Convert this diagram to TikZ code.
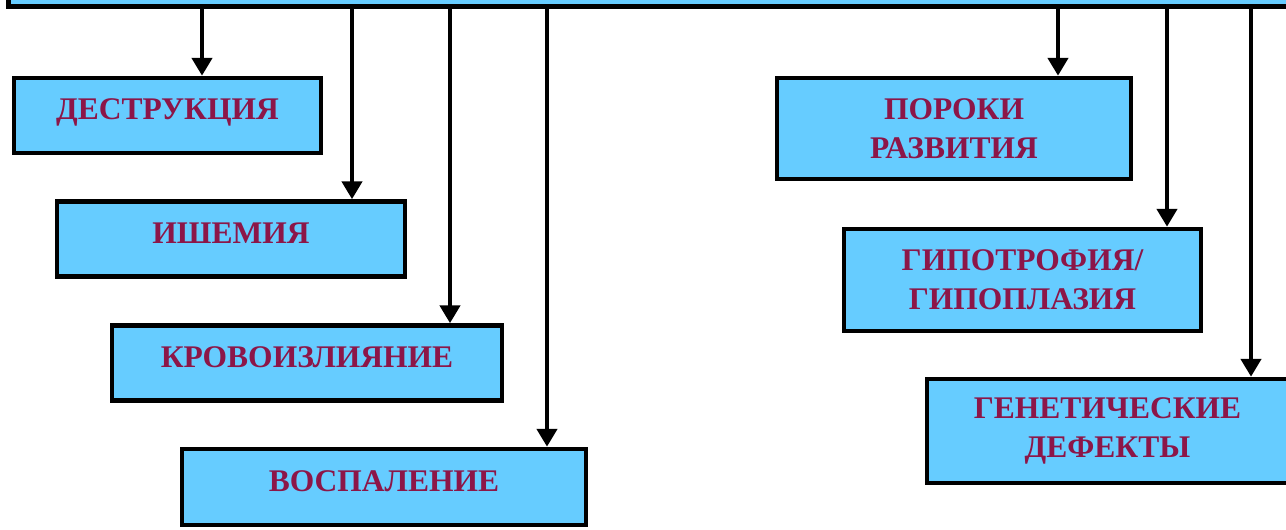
\documentclass[tikz,border=0pt]{standalone}
\usepackage{fontspec}
\setmainfont{Liberation Serif}
\usetikzlibrary{arrows.meta}
\definecolor{boxblue}{RGB}{102,204,255}
\definecolor{txtred}{RGB}{140,22,72}
\begin{document}
\begin{tikzpicture}[x=1pt,y=-1pt,
  box/.style={draw=black, line width=4.5pt, fill=boxblue, inner sep=0pt,
    font=\bfseries\fontsize{31.5}{39}\selectfont, text=txtred, align=center},
  one/.style={text height=21pt, text depth=13pt},
  arr/.style={line width=4.5pt, -{Triangle[length=18pt,width=20pt]}}]
\useasboundingbox (0,0) rectangle (1286,530);
\clip (0,0) rectangle (1286,530);
\node[box, anchor=south west, minimum width=1320pt, minimum height=40pt] (bar) at (6,8.5) {};
% left column
\node[box, one, minimum width=307pt, minimum height=75pt] (d1) at (167.5,115.5) {ДЕСТРУКЦИЯ};
\node[box, one, minimum width=348pt, minimum height=75pt] (d2) at (231,239) {ИШЕМИЯ};
\node[box, one, minimum width=390pt, minimum height=75pt] (d3) at (307,363) {КРОВОИЗЛИЯНИЕ};
\node[box, one, minimum width=404pt, minimum height=76pt] (d4) at (384,487) {ВОСПАЛЕНИЕ};
% right column
\node[box, minimum width=354pt, minimum height=101pt] (p1) at (954,128.5) {ПОРОКИ\\РАЗВИТИЯ};
\node[box, minimum width=357pt, minimum height=102pt] (p2) at (1022.5,280) {ГИПОТРОФИЯ/\\ГИПОПЛАЗИЯ};
\node[box, minimum width=361pt, minimum height=104pt] (p3) at (1107.5,431) {ГЕНЕТИЧЕСКИЕ\\ДЕФЕКТЫ};
% arrow columns
\coordinate (x1) at (202,0);
\coordinate (x2) at (352,0);
\coordinate (x3) at (450,0);
\coordinate (x4) at (547,0);
\coordinate (x5) at (1058,0);
\coordinate (x6) at (1167,0);
\coordinate (x7) at (1251,0);
\draw[arr] (bar.south -| x1) -- (d1.north -| x1);
\draw[arr] (bar.south -| x2) -- (d2.north -| x2);
\draw[arr] (bar.south -| x3) -- (d3.north -| x3);
\draw[arr] (bar.south -| x4) -- (d4.north -| x4);
\draw[arr] (bar.south -| x5) -- (p1.north -| x5);
\draw[arr] (bar.south -| x6) -- (p2.north -| x6);
\draw[arr] (bar.south -| x7) -- (p3.north -| x7);
\end{tikzpicture}
\end{document}
